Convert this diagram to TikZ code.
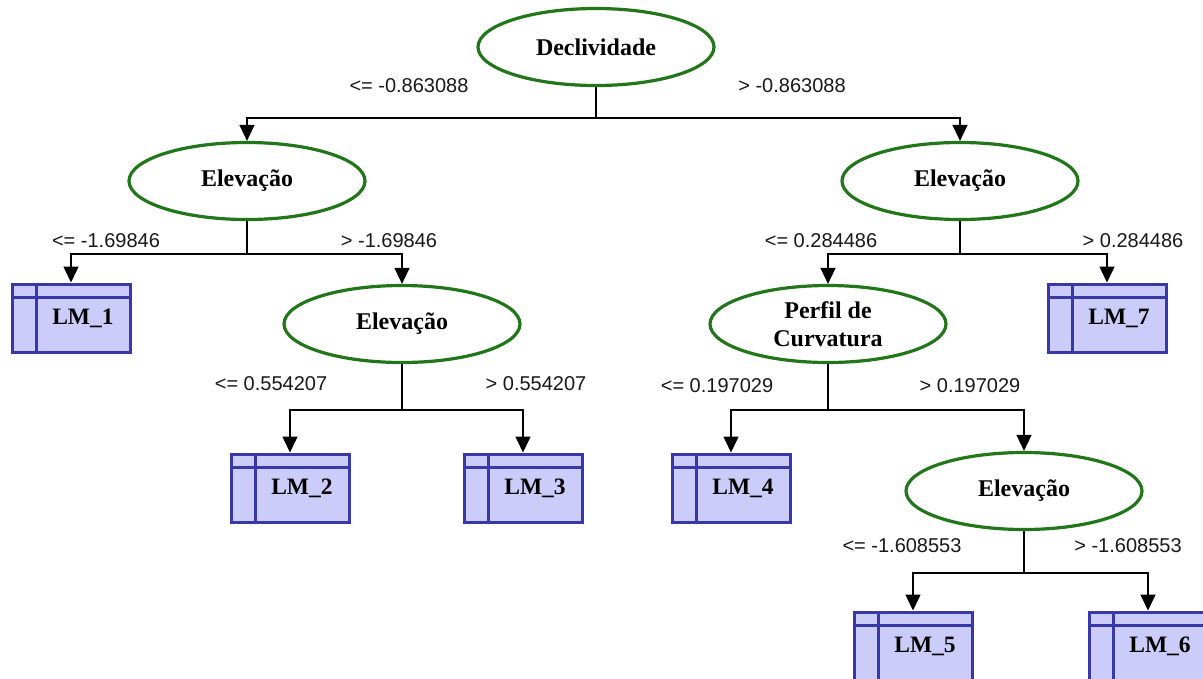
\documentclass[tikz,border=0pt]{standalone}
\usepackage{fontspec}
\setmainfont{Liberation Serif}
\newfontfamily\lblfont{Liberation Sans}
\usetikzlibrary{shapes.geometric,arrows.meta}
\definecolor{elgreen}{RGB}{34,118,26}
\definecolor{lmblue}{RGB}{56,56,168}
\definecolor{lmfill}{RGB}{204,204,250}
\tikzset{
  x=1pt, y=-1pt,
  splitnode/.style={ellipse, draw=elgreen, line width=3.2pt, fill=white,
    minimum width=236pt, minimum height=77pt, inner sep=0pt, align=center,
    font=\fontsize{24}{28}\selectfont\bfseries},
  lmbox/.style={rectangle, draw=lmblue, fill=lmfill, line width=3pt,
    minimum width=118pt, minimum height=68pt, inner sep=0pt,
    font=\fontsize{23.5}{26}\selectfont\bfseries,
    path picture={
      \draw[lmblue, line width=3pt]
        ([yshift=-13pt]path picture bounding box.north west) --
        ([yshift=-13pt]path picture bounding box.north east);
      \draw[lmblue, line width=3pt]
        ([xshift=24pt]path picture bounding box.north west) --
        ([xshift=24pt]path picture bounding box.south west);
    }},
  cond/.style={font=\lblfont\fontsize{20}{22}\selectfont, inner sep=0pt, text=black!90},
  conn/.style={draw=black, line width=1.5pt},
  arr/.style={conn, -{Triangle[width=15pt,length=16pt]}}
}
\newcommand{\lmtext}[1]{\hspace*{24pt}\raisebox{-4pt}{#1}}
\begin{document}
\begin{tikzpicture}
\useasboundingbox (0,0) rectangle (1203,678);
\fill[white] (0,0) rectangle (1203,678);

% split nodes
\node[splitnode] (root) at (596,47) {Declividade};
\node[splitnode] (elA) at (247,181) {Elevação};
\node[splitnode] (elB) at (402,324) {Elevação};
\node[splitnode] (elC) at (960,181) {Elevação};
\node[splitnode] (perf) at (828,324) {Perfil de\\Curvatura};
\node[splitnode] (elD) at (1024,491) {Elevação};

% leaves
\node[lmbox] (lm1) at (71,318) {\lmtext{LM\_1}};
\node[lmbox] (lm2) at (290,488) {\lmtext{LM\_2}};
\node[lmbox] (lm3) at (523,488) {\lmtext{LM\_3}};
\node[lmbox] (lm7) at (1107,318) {\lmtext{LM\_7}};
\node[lmbox] (lm4) at (731,488) {\lmtext{LM\_4}};
\node[lmbox] (lm5) at (913,646) {\lmtext{LM\_5}};
\node[lmbox] (lm6) at (1148,646) {\lmtext{LM\_6}};

% fork coordinates
\coordinate (f0) at (596,118);
\coordinate (fA) at (247,254);
\coordinate (fB) at (402,410);
\coordinate (fC) at (960,254);
\coordinate (fP) at (828,410);
\coordinate (fD) at (1024,573);

% connectors
\draw[conn] (root.south) -- (f0);
\draw[arr] (f0) -| (elA.north);
\draw[arr] (f0) -| (elC.north);

\draw[conn] (elA.south) -- (fA);
\draw[arr] (fA) -| (lm1.north);
\draw[arr] (fA) -| (elB.north);

\draw[conn] (elB.south) -- (fB);
\draw[arr] (fB) -| (lm2.north);
\draw[arr] (fB) -| (lm3.north);

\draw[conn] (elC.south) -- (fC);
\draw[arr] (fC) -| (perf.north);
\draw[arr] (fC) -| (lm7.north);

\draw[conn] (perf.south) -- (fP);
\draw[arr] (fP) -| (lm4.north);
\draw[arr] (fP) -| (elD.north);

\draw[conn] (elD.south) -- (fD);
\draw[arr] (fD) -| (lm5.north);
\draw[arr] (fD) -| (lm6.north);

% condition labels
\node[cond] (c0l) at (409,86) {<= -0.863088};
\node[cond] (c0r) at (792,86) {> -0.863088};
\node[cond] (cAl) at (106,241) {<= -1.69846};
\node[cond] (cAr) at (389,241) {> -1.69846};
\node[cond] (cBl) at (271,384) {<= 0.554207};
\node[cond] (cBr) at (536,384) {> 0.554207};
\node[cond] (cCl) at (821,241) {<= 0.284486};
\node[cond] (cCr) at (1133,241) {> 0.284486};
\node[cond] (cPl) at (717,386) {<= 0.197029};
\node[cond] (cPr) at (970,386) {> 0.197029};
\node[cond] (cDl) at (902,546) {<= -1.608553};
\node[cond] (cDr) at (1128,546) {> -1.608553};
\end{tikzpicture}
\end{document}
